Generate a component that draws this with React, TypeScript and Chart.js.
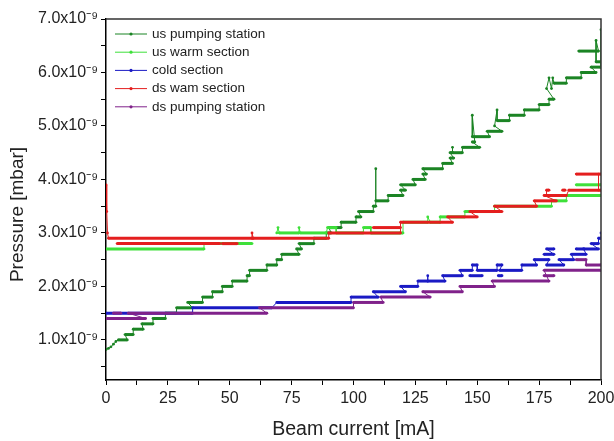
import { useEffect, useRef } from 'react';
import { Chart, registerables } from 'chart.js';

Chart.register(...registerables);

// Pressure values are in units of 1e-9 mbar, beam current in mA.
type Pt = [number, number];

const seriesLabels = [
  'us pumping station',
  'us warm section',
  'cold section',
  'ds wam section',
  'ds pumping station',
];
const seriesColors = ['#1b8424', '#3ee03a', '#1a1ac4', '#e41e1e', '#80228a'];

const xTitle = 'Beam current [mA]';
const yTitle = 'Pressure [mbar]';
const xMajorTicks = [0, 25, 50, 75, 100, 125, 150, 175, 200];
const xTickLabels = ['0', '25', '50', '75', '100', '125', '150', '175', '200'];
const yMajorTicks = [1, 2, 3, 4, 5, 6, 7];
const yTickLabels = ['1.0x10⁻⁹', '2.0x10⁻⁹', '3.0x10⁻⁹', '4.0x10⁻⁹', '5.0x10⁻⁹', '6.0x10⁻⁹', '7.0x10⁻⁹'];

const usPumpingRuns: Pt[][] = [
  [
    [0, 0.82], [1, 0.84], [2, 0.87], [3, 0.92], [4, 0.97], [5, 1.0], [8.6, 1.0],
    [7.7, 1.1], [11, 1.1], [11, 1.2], [15, 1.2], [14.5, 1.3], [19, 1.3], [19, 1.4], [24, 1.4],
    [24, 1.5], [28.5, 1.5], [28.5, 1.6], [35, 1.6], [33, 1.7], [39, 1.7], [39, 1.8], [43, 1.8],
    [43, 1.9], [47, 1.9], [47, 2.0], [51, 2.0], [51, 2.1], [57, 2.1], [57, 2.2], [58, 2.2],
    [58, 2.3], [65, 2.3], [65, 2.4], [69, 2.4], [69, 2.5], [71, 2.5], [71, 2.6], [78, 2.6],
    [77, 2.7], [79, 2.7], [78, 2.8], [84, 2.8], [84, 2.9], [89, 2.9], [89, 3.0], [91, 3.0],
    [90, 3.1], [95, 3.1], [95, 3.2], [101, 3.2], [101, 3.3], [103, 3.3], [102, 3.4], [108, 3.4],
    [108, 3.5], [109, 3.5], [109, 4.2], [109, 3.6], [114, 3.6], [114, 3.7], [120, 3.7],
    [119, 3.8], [121, 3.8], [119, 3.9], [125, 3.9], [124, 4.0], [129, 4.0], [128, 4.1],
    [129.5, 4.1], [128, 4.2], [136, 4.2], [136, 4.3], [140, 4.3], [139, 4.4], [140.5, 4.4],
    [139, 4.5], [140, 4.5], [140, 4.6], [140, 4.5], [144, 4.5], [144, 4.6], [151, 4.6],
    [148, 4.7], [149, 4.7], [148, 5.2], [148, 4.8], [155, 4.8], [154, 4.9], [160, 4.9],
    [157, 5.0], [158, 5.3], [158, 5.1], [163, 5.1], [163, 5.2], [169, 5.2], [169, 5.3],
    [175, 5.3], [175, 5.4], [179, 5.4], [179, 5.5], [181, 5.5], [178, 5.7], [179, 5.9],
    [180, 5.7], [180.5, 5.9], [181, 5.8], [186, 5.8], [186, 5.9], [192, 5.9], [192, 6.0],
    [198, 6.0], [196, 6.1], [200, 6.1],
  ],
  [[191, 6.4], [199, 6.4], [198, 6.6], [198, 6.2], [200, 6.2], [200, 6.8], [200, 6.1]],
];

const usWarmRuns: Pt[][] = [
  [[0, 2.7], [39.6, 2.7], [39.6, 2.8], [59, 2.8]],
  [
    [69, 3.0], [69.5, 3.1], [70, 3.0], [78, 3.0], [78, 3.1], [78.5, 3.0], [89, 3.0], [89.5, 3.1],
    [93, 3.1], [93, 3.0], [104, 3.0], [104, 3.1], [107, 3.1], [107, 3.0], [120, 3.0],
    [120, 3.2], [130, 3.2], [130, 3.3], [131, 3.2],
    [135, 3.2], [135, 3.3], [145, 3.3], [145, 3.4], [157, 3.4], [157, 3.5], [180, 3.5],
    [180, 3.6], [186, 3.6], [186, 3.7], [200, 3.7],
  ],
  [[190, 3.9], [200, 3.9]],
];

const coldRuns: Pt[][] = [
  [
    [0, 1.5], [35, 1.5], [35, 1.6], [67, 1.6], [69, 1.7], [99, 1.7], [99, 1.8], [110, 1.8],
    [108, 1.9], [121, 1.9], [119, 2.0], [126, 2.0], [126, 2.1], [130, 2.1], [130, 2.2],
    [130, 2.1], [137, 2.1], [136, 2.2], [144, 2.2], [143, 2.3], [148, 2.3], [148, 2.4],
    [150, 2.4], [150, 2.3], [158, 2.3], [158, 2.4], [160, 2.4], [159, 2.3], [168, 2.3],
    [168, 2.4], [174, 2.4], [173, 2.5], [179, 2.5], [178, 2.4], [185, 2.4], [183, 2.5],
    [189, 2.5], [188, 2.6], [194, 2.6], [193, 2.7], [199, 2.7], [196, 2.8], [199, 2.8],
    [199, 2.9], [200, 2.9], [200, 3.0],
  ],
  [[147, 2.2], [152, 2.2]],
  [[158.5, 2.2], [160, 2.2]],
  [[177, 2.6], [181, 2.6], [178, 2.7], [181, 2.7]],
  [[190, 2.7], [193, 2.7]],
];

const dsWamRuns: Pt[][] = [
  [
    [0, 3.9], [0.3, 3.4], [0.6, 3.0], [1, 2.9], [90, 2.9], [90, 3.0], [119, 3.0], [119, 3.2],
    [140, 3.2], [138, 3.3], [150, 3.3], [147, 3.4], [160, 3.4], [157, 3.5], [174, 3.5],
    [173, 3.6], [182, 3.6], [177, 3.7], [186, 3.7], [187, 3.8], [200, 3.8],
  ],
  [[4.5, 2.8], [46, 2.8]],
  [[47, 2.8], [53, 2.8]],
  [[59, 2.9], [59, 3.0], [59.5, 2.9]],
  [[108, 3.1], [119, 3.1]],
  [[178, 3.7], [178, 3.8], [179, 3.8]],
  [[184.5, 3.8], [185.5, 3.8]],
  [[190, 4.1], [200, 4.1]],
  [[199, 3.8], [199, 4.1]],
];

const dsPumpingRuns: Pt[][] = [
  [
    [0, 1.4], [16, 1.4], [9, 1.5], [65, 1.5], [62, 1.6], [100, 1.6], [100, 1.7], [112, 1.7],
    [111, 1.8], [131, 1.8], [128, 1.9], [144, 1.9], [143, 2.0], [157, 2.0], [156, 2.1],
    [179, 2.1], [177, 2.3], [200, 2.3],
  ],
  [[3, 1.5], [6, 1.5]],
  [[177, 2.2], [181, 2.2]],
  [[190, 2.5], [194, 2.5], [194, 2.4], [200, 2.4]],
];

const allRuns = [usPumpingRuns, usWarmRuns, coldRuns, dsWamRuns, dsPumpingRuns];

function runsToData(runs: Pt[][]) {
  const out: { x: number; y: number | null }[] = [];
  runs.forEach((run, ri) => {
    if (ri > 0) out.push({ x: run[0][0], y: null });
    run.forEach(([x, y]) => out.push({ x, y }));
  });
  return out;
}

const FONT = '"Liberation Sans", Arial, Helvetica, sans-serif';

const insideLegend = {
  id: 'insideLegend',
  afterDatasetsDraw(chart: any) {
    const { ctx, chartArea } = chart;
    ctx.save();
    ctx.font = `13.5px ${FONT}`;
    ctx.textBaseline = 'middle';
    ctx.textAlign = 'left';
    seriesLabels.forEach((label, i) => {
      const y = chartArea.top + 15 + i * 18.2;
      const x0 = chartArea.left + 9;
      ctx.strokeStyle = seriesColors[i];
      ctx.lineWidth = 1;
      ctx.beginPath();
      ctx.moveTo(x0, y);
      ctx.lineTo(x0 + 32, y);
      ctx.stroke();
      ctx.fillStyle = seriesColors[i];
      ctx.beginPath();
      ctx.arc(x0 + 16, y, 1.6, 0, Math.PI * 2);
      ctx.fill();
      ctx.fillStyle = '#222';
      ctx.fillText(label, x0 + 37, y);
    });
    ctx.restore();
  },
};

const frameAndTitle = {
  id: 'frameAndTitle',
  afterDraw(chart: any) {
    const { ctx, chartArea } = chart;
    ctx.save();
    ctx.strokeStyle = '#333';
    ctx.lineWidth = 1.5;
    ctx.beginPath();
    ctx.moveTo(chartArea.left, chartArea.top);
    ctx.lineTo(chartArea.right, chartArea.top);
    ctx.lineTo(chartArea.right, chartArea.bottom);
    ctx.stroke();
    // y-axis title, centred slightly below the middle of the axis as in the reference
    ctx.translate(18, chartArea.top + (chartArea.bottom - chartArea.top) / 2 + 15);
    ctx.rotate(-Math.PI / 2);
    ctx.font = `19px ${FONT}`;
    ctx.fillStyle = '#222';
    ctx.textAlign = 'center';
    ctx.textBaseline = 'middle';
    ctx.fillText(yTitle, 0, 0);
    ctx.restore();
  },
};

function near(a: number, b: number) {
  return Math.abs(a - b) < 1e-6;
}

export default function App() {
  const ref = useRef<HTMLCanvasElement | null>(null);

  useEffect(() => {
    document.body.style.margin = '0';
    const canvas = ref.current;
    if (!canvas) return;
    const datasets = allRuns.map((runs, i) => ({
      label: seriesLabels[i],
      data: runsToData(runs),
      borderColor: seriesColors[i],
      backgroundColor: seriesColors[i],
      pointBackgroundColor: seriesColors[i],
      pointBorderWidth: 0,
      pointRadius: 1.4,
      borderWidth: 3,
      borderCapStyle: 'butt' as const,
      tension: 0,
      spanGaps: false,
      order: 5 - i,
      segment: {
        borderWidth: (c: any) => (near(c.p0.parsed.y, c.p1.parsed.y) ? 3 : 1),
      },
    }));

    const chart = new Chart(canvas, {
      type: 'line',
      data: { datasets },
      plugins: [insideLegend, frameAndTitle],
      options: {
        animation: false,
        responsive: false,
        devicePixelRatio: 1,
        parsing: { xAxisKey: 'x', yAxisKey: 'y' },
        layout: { padding: { top: 19, right: 13, left: 0, bottom: 0 } },
        plugins: {
          legend: { display: false },
          tooltip: { enabled: false },
        },
        scales: {
          x: {
            type: 'linear',
            min: 0,
            max: 200,
            afterFit: (s: any) => {
              s.height = 61;
              s.paddingLeft = 0;
              s.paddingRight = 0;
            },
            border: { display: true, color: '#000', width: 1.5 },
            grid: { display: true, drawOnChartArea: false, drawTicks: true, tickLength: 5, color: '#000', tickColor: '#000' },
            ticks: {
              stepSize: 12.5,
              autoSkip: false,
              maxRotation: 0,
              includeBounds: false,
              padding: 4,
              color: '#222',
              font: { family: FONT, size: 16 },
              callback: (v: any) => {
                const idx = xMajorTicks.findIndex((t) => near(t, Number(v)));
                return idx >= 0 ? xTickLabels[idx] : '';
              },
            },
            title: {
              display: true,
              text: xTitle,
              color: '#222',
              font: { family: FONT, size: 19.5 },
              padding: { top: 0, bottom: 0 },
            },
          },
          y: {
            type: 'linear',
            min: 0.25,
            max: 7,
            afterFit: (s: any) => {
              s.width = 106;
              s.paddingTop = 0;
              s.paddingBottom = 0;
            },
            border: { display: true, color: '#000', width: 1.5 },
            grid: { display: true, drawOnChartArea: false, drawTicks: true, tickLength: 5, color: '#000', tickColor: '#000' },
            ticks: {
              stepSize: 0.5,
              autoSkip: false,
              includeBounds: false,
              padding: 3,
              color: '#222',
              font: { family: FONT, size: 16 },
              callback: (v: any) => {
                const idx = yMajorTicks.findIndex((t) => near(t, Number(v)));
                return idx >= 0 ? yTickLabels[idx] : '';
              },
            },
            title: { display: false },
          },
        },
      } as any,
    });
    return () => chart.destroy();
  }, []);

  return (
    <div style={{ width: 614, height: 441 }}>
      <canvas ref={ref} width={614} height={441} style={{ display: 'block' }} />
    </div>
  );
}
